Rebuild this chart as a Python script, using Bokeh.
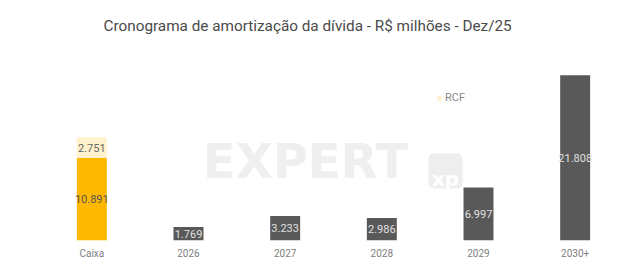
from bokeh.plotting import figure
from bokeh.models import ColumnDataSource, Label, BoxAnnotation, Legend, LegendItem, FactorRange
from bokeh.core.properties import value
from bokeh.embed import file_html
from bokeh.resources import INLINE

categories = ["Caixa", "2026", "2027", "2028", "2029", "2030+"]
caixa = [10.891, 0, 0, 0, 0, 0]
rcf = [2.751, 0, 0, 0, 0, 0]
divida = [0, 1.769, 3.233, 2.986, 6.997, 21.808]

title = "Cronograma de amortização da dívida - R$ milhões - Dez/25"

src = ColumnDataSource(dict(cat=categories, caixa=caixa, rcf=rcf, divida=divida))

p = figure(x_range=FactorRange(*categories, range_padding=0), y_range=(0, 26.4),
           width=638, height=274, output_backend="svg", toolbar_location=None,
           min_border_left=43, min_border_right=15, min_border_top=40, min_border_bottom=34)
p.outline_line_color = None
p.grid.visible = False
p.yaxis.visible = False
p.xaxis.axis_line_color = None
p.xaxis.major_tick_line_color = None
p.xaxis.minor_tick_line_color = None
p.xaxis.major_label_text_font = "Roboto"
p.xaxis.major_label_text_font_size = "10px"
p.xaxis.major_label_text_color = "#808080"
p.xaxis.major_label_standoff = 1

# watermark
p.add_layout(Label(x=262, y=52, x_units="screen", y_units="screen", text="EXPERT",
                   text_font="DejaVu Sans", text_font_style="bold", text_font_size="48px",
                   text_color="#efefef", text_align="center", text_baseline="bottom"))
p.add_layout(BoxAnnotation(left=385, right=419, bottom=52, top=87,
                           left_units="screen", right_units="screen",
                           bottom_units="screen", top_units="screen",
                           fill_color="#eeeeee", fill_alpha=1, line_color=None,
                           border_radius=5))
p.add_layout(Label(x=402, y=50, x_units="screen", y_units="screen", text="xp",
                   text_font="DejaVu Sans", text_font_style="bold", text_font_size="20px",
                   text_color="#ffffff", text_align="center", text_baseline="bottom"))

p.title.text = title
p.title.align = "left"
p.title.vertical_align = "middle"
p.title.text_font = "Roboto"
p.title.text_font_size = "15.3px"
p.title.text_font_style = "normal"
p.title.text_color = "#4a4a4a"
p.title.offset = 60

r = p.vbar_stack(["caixa", "rcf", "divida"], x="cat", width=0.31, source=src,
                 color=["#FFB800", "#FFF2CC", "#595959"], line_color=None)

legend = Legend(items=[LegendItem(label="RCF", renderers=[r[1]])],
                location=(393, 136), orientation="horizontal",
                padding=0, margin=0, spacing=0, glyph_width=6, glyph_height=6,
                label_standoff=3, label_text_font="Roboto", label_text_font_size="11px",
                label_text_color="#888888", background_fill_alpha=0, border_line_color=None)
p.add_layout(legend)

# labels
lab_x = [categories[0], categories[0]] + categories[1:]
lab_y = [caixa[0] / 2, caixa[0] + rcf[0] / 2] + [v / 2 for v in divida[1:]]
lab_t = [f"{caixa[0]:.3f}", f"{rcf[0]:.3f}"] + [f"{v:.3f}" for v in divida[1:]]
lab_c = ["#555555", "#666666"] + ["#e0e0e0"] * 5
lsrc = ColumnDataSource(dict(x=lab_x, y=lab_y, t=lab_t, c=lab_c))
p.text(x="x", y="y", text="t", source=lsrc, text_color="c", text_align="center",
       text_baseline="middle", text_font_size=value("11px"), text_font=value("Roboto"))

open("out.html", "w").write(file_html(p, INLINE))
